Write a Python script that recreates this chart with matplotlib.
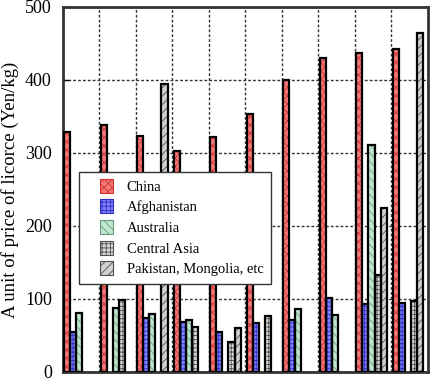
import numpy as np
import matplotlib.pyplot as plt
from matplotlib.patches import Patch, Rectangle
from matplotlib.legend_handler import HandlerPatch

plt.rcParams['font.family'] = ['Liberation Serif', 'DejaVu Serif']
plt.rcParams['hatch.linewidth'] = 0.6

# one group per column, nan = no bar
china = [329, 338, 323, 303, 322, 353, 400, 430, 437, 442]
afghanistan = [55, np.nan, 74, 68, 55, 67, 71, 101, 93, 95]
australia = [81, 88, 79, 71, np.nan, np.nan, 86, 78, 311, np.nan]
central_asia = [np.nan, 98, np.nan, 62, 41, 77, np.nan, np.nan, 133, 97]
pakistan = [np.nan, np.nan, 395, np.nan, 60, np.nan, np.nan, np.nan, 225, 464]

series = [
    ('China', china, '#f47a7a', '#d03030', 'xxxx'),
    ('Afghanistan', afghanistan, '#8080ff', '#3030c0', '++++'),
    ('Australia', australia, '#bfe6cf', '#6a9a7a', '\\\\\\\\'),
    ('Central Asia', central_asia, '#d8d8d8', '#505050', '++++'),
    ('Pakistan, Mongolia, etc', pakistan, '#d0d0d0', '#505050', '////'),
]


def square_handle(legend, orig_handle, xdescent, ydescent, width, height, fontsize):
    s = 10.0
    return Rectangle((-xdescent + width - s, -ydescent + (height - s) / 2), s, s)


fig = plt.figure(figsize=(4.31, 3.83), dpi=100)
ax = fig.add_axes([0.146, 0.029, 0.847, 0.953])

width = 0.165
start = 0.04
handles = []
for k, (name, vals, face, hcol, hatch) in enumerate(series):
    vals = np.array(vals, dtype=float)
    x = np.arange(len(vals)) + start + k * width
    m = ~np.isnan(vals)
    ax.bar(x[m], vals[m], width, align='edge', facecolor=face,
           edgecolor=hcol, hatch=hatch, linewidth=0, zorder=3)
    ax.bar(x[m], vals[m], width, align='edge', facecolor='none',
           edgecolor='black', linewidth=1.6, zorder=4)
    handles.append(Patch(facecolor=face, edgecolor=hcol, hatch=hatch,
                         linewidth=0.8, label=name))

ax.set_xlim(0, 10)
ax.set_ylim(0, 500)
ax.set_xticks(np.arange(1, 10))
ax.set_xticklabels([])
ax.set_yticks(np.arange(0, 501, 100))
ax.tick_params(axis='x', length=0)
ax.tick_params(axis='y', direction='in', length=4, width=1, labelsize=13, pad=8)
ax.grid(True, color='#333333', linestyle=(0, (2, 1.5)), linewidth=1.0, zorder=1)
ax.set_axisbelow(True)
for s in ax.spines.values():
    s.set_linewidth(2)
    s.set_color('#333333')
ax.set_ylabel('A unit of price of licorce (Yen/kg)', fontsize=13.5, labelpad=4)

leg = ax.legend(handles=handles, loc='upper left', bbox_to_anchor=(0.044, 0.548),
                fontsize=10.5, handlelength=1.86, handleheight=1.0, handletextpad=0.9,
                labelspacing=0.42, borderpad=0.5, fancybox=False, framealpha=1,
                edgecolor='#333333', borderaxespad=0,
                handler_map={Patch: HandlerPatch(patch_func=square_handle)})
leg.get_frame().set_linewidth(1.0)
leg.set_zorder(5)

fig.savefig('out.png', dpi=100)
